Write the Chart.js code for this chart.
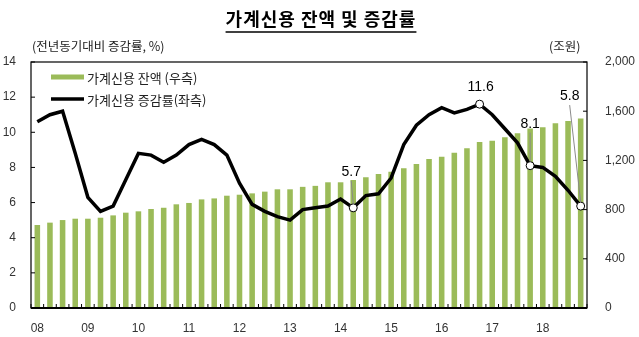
<!DOCTYPE html>
<html>
<head>
<meta charset="utf-8">
<script src="https://cdn.jsdelivr.net/npm/chart.js@4"></script>
<style>
  html, body { margin: 0; padding: 0; background: #fff; }
  #wrap { width: 639px; height: 337px; }
</style>
</head>
<body>
<div id="wrap"><canvas id="creditChart" width="639" height="337"></canvas></div>
<script>
// year tick labels (shown at each Q1)
const years = ['08', '09', '10', '11', '12', '13', '14', '15', '16', '17', '18'];

// household credit balance, trillion won (right axis)
const balance = [675, 694, 715, 726, 726, 734, 753, 775, 786, 805, 815, 843,
    854, 883, 891, 913, 921, 932, 946, 965, 965, 985, 993, 1022,
    1022, 1041, 1063, 1089, 1108, 1136, 1171, 1211, 1230, 1263, 1298, 1350,
    1360, 1388, 1420, 1459, 1469, 1502, 1520, 1540];

// year-on-year growth rate, % (left axis)
const growth = [10.6, 11.0, 11.2, 8.8, 6.3, 5.5, 5.8, 7.3, 8.8, 8.7, 8.3, 8.7,
    9.3, 9.6, 9.3, 8.7, 7.1, 5.9, 5.5, 5.2, 5.0, 5.6, 5.7, 5.8,
    6.2, 5.7, 6.4, 6.5, 7.4, 9.3, 10.4, 11.0, 11.4, 11.1, 11.3, 11.6,
    11.0, 10.2, 9.4, 8.1, 8.0, 7.5, 6.7, 5.8];

// highlighted points: index and label offset
const marked = [25, 35, 39, 43];
const markOffset = { 25: [-2, -36, true], 35: [1, -17, false], 39: [0, -42, true], 43: [-11, -110, true] };

const quarters = [];
years.forEach(y => { for (let q = 1; q <= 4; q++) quarters.push(y + '.' + q + 'Q'); });

const labelFont = '"Liberation Sans", Arial, sans-serif';
const korFont = '"Noto Sans CJK KR", sans-serif';

const decorPlugin = {
    id: 'decor',
    afterDatasetsDraw(chart) {
        const ctx = chart.ctx;
        const a = chart.chartArea;
        const x = chart.scales.x, y = chart.scales.y, y1 = chart.scales.y1;
        ctx.save();

        // box
        ctx.strokeStyle = '#000';
        ctx.lineWidth = 1.2;
        ctx.strokeRect(a.left, a.top, a.right - a.left, a.bottom - a.top);
        ctx.lineWidth = 1.8;
        ctx.beginPath(); ctx.moveTo(a.left, a.bottom); ctx.lineTo(a.right, a.bottom); ctx.stroke();

        // inward ticks
        ctx.lineWidth = 1;
        ctx.beginPath();
        y.ticks.forEach(t => {
            const p = y.getPixelForValue(t.value);
            ctx.moveTo(a.left, p); ctx.lineTo(a.left + 4, p);
        });
        y1.ticks.forEach(t => {
            const p = y1.getPixelForValue(t.value);
            ctx.moveTo(a.right - 4, p); ctx.lineTo(a.right, p);
        });
        const half = (x.getPixelForValue(1) - x.getPixelForValue(0)) / 2;
        for (let i = 0; i <= quarters.length; i++) {
            const p = x.getPixelForValue(i) - half;
            ctx.moveTo(p, a.bottom); ctx.lineTo(p, a.bottom - 4);
        }
        ctx.stroke();

        // annotations
        ctx.font = '14px ' + labelFont;
        ctx.fillStyle = '#000';
        ctx.textAlign = 'center';
        ctx.textBaseline = 'middle';
        marked.forEach(i => {
            const px = x.getPixelForValue(i);
            const py = y.getPixelForValue(growth[i]);
            const [dx, dy, leader] = markOffset[i];
            ctx.fillText(growth[i].toFixed(1), px + dx, py + dy);
            if (leader) {
                ctx.strokeStyle = '#8a8a8a';
                ctx.lineWidth = 1;
                ctx.beginPath();
                ctx.moveTo(px + dx, py + dy + 9);
                ctx.lineTo(px, py - 4);
                ctx.stroke();
            }
        });
        ctx.restore();
    },
    afterDraw(chart) {
        const ctx = chart.ctx;
        ctx.save();
        // title
        ctx.fillStyle = '#000';
        ctx.font = 'bold 18px ' + korFont;
        ctx.letterSpacing = '1px';
        ctx.textAlign = 'center';
        ctx.textBaseline = 'middle';
        const title = '가계신용 잔액 및 증감률';
        ctx.fillText(title, 321, 19);
        const w = ctx.measureText(title).width;
        ctx.letterSpacing = '0px';
        ctx.strokeStyle = '#000';
        ctx.lineWidth = 1.5;
        ctx.beginPath();
        ctx.moveTo(321 - w / 2, 32); ctx.lineTo(321 + w / 2, 32);
        ctx.stroke();

        // axis units
        ctx.font = '12.5px ' + korFont;
        ctx.fillStyle = '#222';
        ctx.textAlign = 'left';
        ctx.fillText('(전년동기대비 증감률, %)', 32, 46);
        ctx.fillText('(조원)', 549, 46);

        // legend
        ctx.strokeStyle = '#9bbb59';
        ctx.lineWidth = 5;
        ctx.beginPath(); ctx.moveTo(51, 77); ctx.lineTo(84, 77); ctx.stroke();
        ctx.strokeStyle = '#000';
        ctx.lineWidth = 3.5;
        ctx.beginPath(); ctx.moveTo(51, 99); ctx.lineTo(84, 99); ctx.stroke();
        ctx.font = '13px ' + korFont;
        ctx.fillStyle = '#222';
        ctx.fillText('가계신용 잔액 (우측)', 87, 78);
        ctx.fillText('가계신용 증감률(좌측)', 87, 100);
        ctx.restore();
    }
};

const chart = new Chart(document.getElementById('creditChart'), {
    data: {
        labels: quarters,
        datasets: [
            {
                type: 'line',
                label: '가계신용 증감률(좌측)',
                data: growth,
                yAxisID: 'y',
                borderColor: '#000',
                borderWidth: 3.5,
                tension: 0,
                pointRadius: growth.map((v, i) => marked.includes(i) ? 4 : 0),
                pointBackgroundColor: '#fff',
                pointBorderColor: '#000',
                pointBorderWidth: 1,
                order: 0
            },
            {
                type: 'bar',
                label: '가계신용 잔액 (우측)',
                data: balance,
                yAxisID: 'y1',
                backgroundColor: '#9bbb59',
                barPercentage: 0.44,
                categoryPercentage: 1,
                order: 1
            }
        ]
    },
    options: {
        responsive: false,
        animation: false,
        layout: { padding: { top: 62, left: 0, right: 0, bottom: 0 } },
        scales: {
            x: {
                offset: true,
                grid: { display: false },
                border: { display: false },
                ticks: {
                    autoSkip: false,
                    maxRotation: 0,
                    padding: 5,
                    color: '#333',
                    font: { family: labelFont, size: 12 },
                    callback: (v, i) => i % 4 === 0 ? years[i / 4] : null
                },
                afterFit: s => { s.height = 29; }
            },
            y: {
                position: 'left',
                min: 0, max: 14,
                grid: { display: false },
                border: { display: false },
                ticks: { stepSize: 2, padding: 7, color: '#333', font: { family: labelFont, size: 12 } },
                afterFit: s => { s.width = 31; }
            },
            y1: {
                position: 'right',
                min: 0, max: 2000,
                grid: { display: false },
                border: { display: false },
                ticks: {
                    stepSize: 400, padding: 10, color: '#333',
                    font: { family: labelFont, size: 12 },
                    callback: v => v.toLocaleString('en-US')
                },
                afterFit: s => { s.width = 52; }
            }
        },
        plugins: {
            legend: { display: false },
            title: { display: false },
            tooltip: { enabled: false }
        }
    },
    plugins: [decorPlugin]
});
</script>
</body>
</html>
